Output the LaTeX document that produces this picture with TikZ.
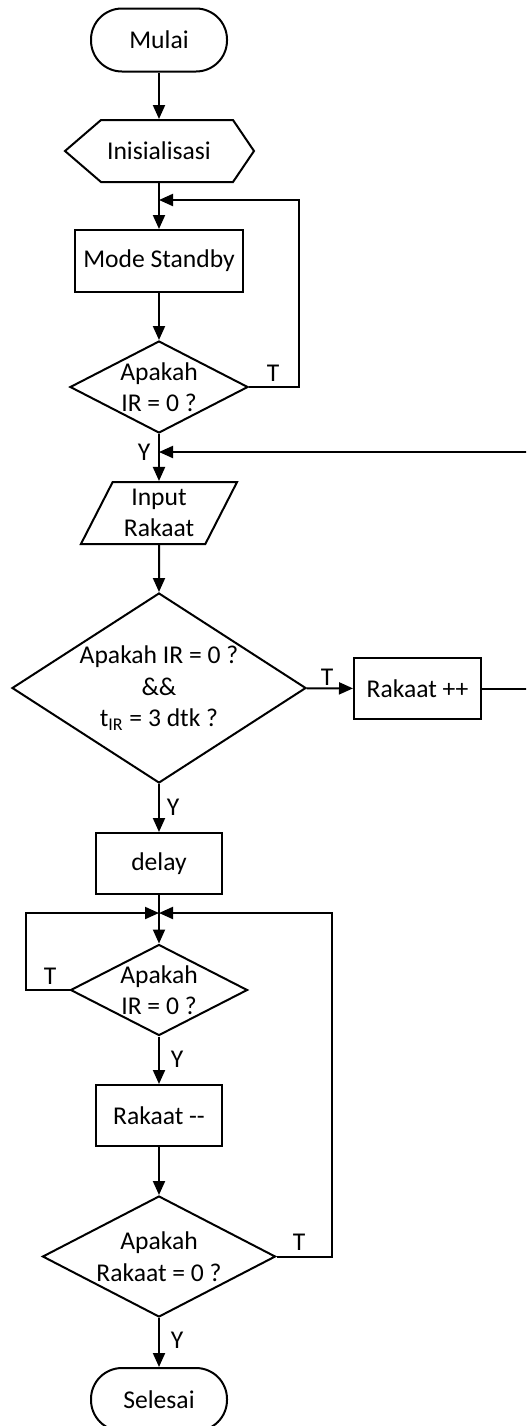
\documentclass[tikz,border=0pt]{standalone}
\usepackage{fontspec}
\setmainfont{Carlito}
\usetikzlibrary{shapes.geometric,arrows.meta}

\begin{document}
\begin{tikzpicture}[x=0.5pt, y=-0.5pt, line width=1pt,
    font=\fontsize{12.8}{15.75}\selectfont,
    every node/.style={align=center},
    terminal/.style={draw, rounded corners=15.5pt, minimum width=68pt, minimum height=31.5pt},
    process/.style={draw, minimum width=63pt, minimum height=30.5pt},
    decision/.style={draw, diamond, inner sep=0pt},
    io/.style={draw, trapezium, trapezium left angle=63.4, trapezium right angle=116.6,
        trapezium stretches=true, inner sep=0pt, minimum width=78.5pt, minimum height=31pt},
    arrow/.style={-{Triangle[length=7pt,width=6pt]}}]
    \useasboundingbox (0,0) rectangle (526,1426);
    \clip (0,0) rectangle (526,1426);

    % Start and preparation
    \node[terminal] (mulai) at (159,40) {Mulai};
    \node[minimum height=31pt] (init) at (159,151) {Inisialisasi};
    \draw (65,151) -- (101,120) -- (233,120) -- (254,151) -- (233,182) -- (101,182) -- cycle;

    % Standby loop
    \node[process, minimum width=84pt, minimum height=31pt] (standby) at (159,261) {Mode Standby};
    \node[decision, minimum width=89pt, minimum height=46pt] (cek1) at (159,387) {};
    \node (cek1txt) at (cek1) {Apakah\\IR = 0 ?};
    \coordinate (j1) at (159,200);
    \coordinate (loop1) at (299,200);

    % Input and counting
    \node[io] (input) at (159,513) {Input\\Rakaat};
    \node[decision, minimum width=147pt, minimum height=95pt] (cek2) at (159,688) {};
    \node (cek2txt) at (cek2) {Apakah IR = 0 ?\\\&\&\\t\textsubscript{IR} = 3 dtk ?};
    \node[process, minimum width=63.5pt] (tambah) at (417.5,688.5) {Rakaat ++};
    \coordinate (j2) at (159,452);
    \coordinate (loop2) at (540,452);

    % Counting down
    \node[process] (delay) at (159,863.5) {delay};
    \node[decision, minimum width=88.5pt, minimum height=45.5pt] (cek3) at (159,990) {};
    \node (cek3txt) at (cek3) {Apakah\\IR = 0 ?};
    \node[process] (kurang) at (159,1115.5) {Rakaat {-}{-}};
    \node[decision, minimum width=116.5pt, minimum height=60.5pt] (cek4) at (159,1256.5) {};
    \node (cek4txt) at (cek4) {Apakah\\Rakaat = 0 ?};
    \node[terminal] (selesai) at (159,1399.5) {Selesai};
    \coordinate (j3) at (159,913);
    \coordinate (loop3) at (26,913);
    \coordinate (loop4) at (332,913);

    % Connectors
    \draw[arrow] (mulai) -- (init);
    \draw[arrow] (init) -- (standby);
    \draw[arrow] (standby) -- (cek1);
    \draw[arrow] (cek1.east) -| (loop1) -- (j1);
    \draw[arrow] (cek1) -- (input);
    \draw[arrow] (input) -- (cek2);
    \draw[arrow] (cek2) -- (tambah);
    \draw[arrow] (tambah.east) -| (loop2) -- (j2);
    \draw[arrow] (cek2) -- (delay);
    \draw[arrow] (delay) -- (cek3);
    \draw[arrow] (cek3.west) -| (loop3) -- (j3);
    \draw[arrow] (cek3) -- (kurang);
    \draw[arrow] (kurang) -- (cek4);
    \draw[arrow] (cek4.east) -| (loop4) -- (j3);
    \draw[arrow] (cek4) -- (selesai);

    % Branch labels
    \node (t1) at (273,373) {T};
    \node (y1) at (144,452) {Y};
    \node (t2) at (327,677) {T};
    \node (y2) at (173,807) {Y};
    \node (t3) at (50,976) {T};
    \node (y3) at (177,1059) {Y};
    \node (t4) at (299,1242) {T};
    \node (y4) at (177,1340) {Y};
\end{tikzpicture}
\end{document}
